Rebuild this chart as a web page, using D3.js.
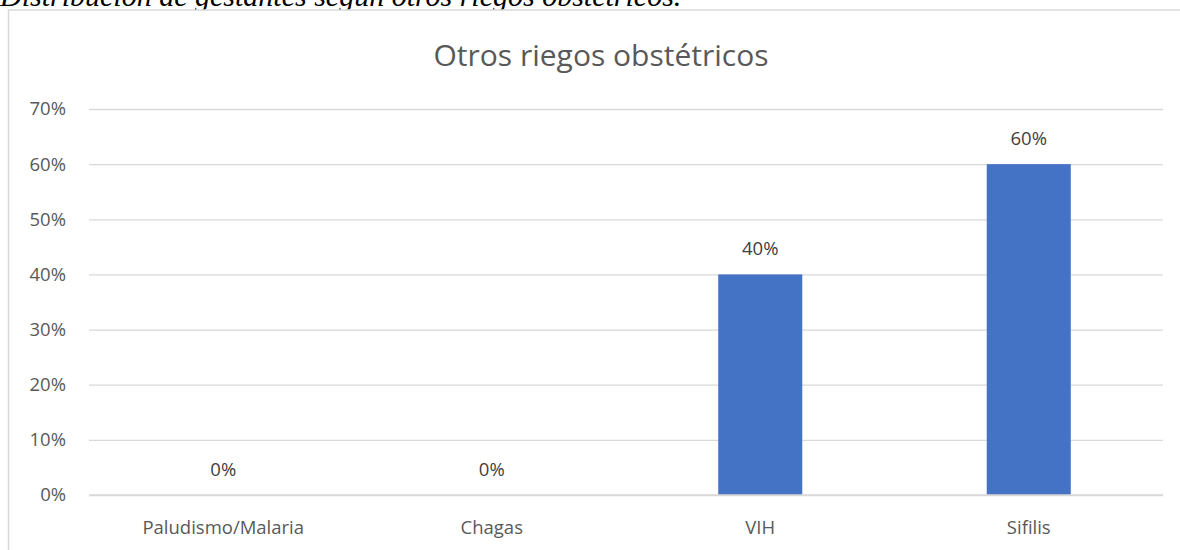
<!DOCTYPE html>
<html>
<head>
<meta charset="utf-8">
<script src="https://cdn.jsdelivr.net/npm/d3@7/dist/d3.min.js"></script>
<style>
  html, body { margin: 0; padding: 0; background: #fff; }
  svg { display: block; }
</style>
</head>
<body>
<script>
// Data
const categories = ["Paludismo/Malaria", "Chagas", "VIH", "Sifilis"];
const values = [0, 0, 0.40, 0.60];
const yTicks = [0, 0.1, 0.2, 0.3, 0.4, 0.5, 0.6, 0.7];
const caption = "Distribución de gestantes según otros riegos obstétricos.";
const chartTitle = "Otros riegos obstétricos";

const W = 1180, H = 550;
const plot = { left: 89, right: 1163, top: 109, bottom: 495 };

const svg = d3.select("body").append("svg")
  .attr("width", W).attr("height", H);

// Caption above the chart frame
svg.append("text")
  .attr("x", 0).attr("y", 6)
  .attr("font-family", "'Liberation Serif', 'Times New Roman', serif")
  .attr("font-style", "italic")
  .attr("font-size", 30)
  .attr("fill", "#000")
  .text(caption);

// Chart frame
svg.append("rect")
  .attr("x", 8.5).attr("y", 10)
  .attr("width", W + 10).attr("height", H + 10)
  .attr("fill", "#fff")
  .attr("stroke", "#d9d9d9").attr("stroke-width", 1.5);

const x = d3.scaleBand()
  .domain(categories)
  .range([plot.left, plot.right])
  .paddingInner(0.687)
  .paddingOuter(0.3435);

const y = d3.scaleLinear()
  .domain([0, 0.7])
  .range([plot.bottom, plot.top]);

const pct = d3.format(".0%");
const font = "'Open Sans', 'Noto Sans', sans-serif";
const labelSize = 18.5;

// Gridlines and value axis labels
const yAxis = d3.axisLeft(y).tickValues(yTicks).tickFormat(pct).tickSize(-(plot.right - plot.left)).tickPadding(23);
const gy = svg.append("g").attr("transform", `translate(${plot.left},0)`).call(yAxis);
gy.select(".domain").remove();
gy.selectAll(".tick line").attr("stroke", "#d9d9d9").attr("stroke-width", 1.3);
gy.selectAll(".tick text")
  .attr("font-family", font).attr("font-size", labelSize).attr("fill", "#595959");

// Bars
svg.append("g").selectAll("rect")
  .data(values)
  .join("rect")
  .attr("x", (d, i) => x(categories[i]))
  .attr("y", d => y(d))
  .attr("width", x.bandwidth())
  .attr("height", d => y(0) - y(d))
  .attr("fill", "#4472c4");

// Baseline
svg.append("line")
  .attr("x1", plot.left).attr("x2", plot.right)
  .attr("y1", y(0)).attr("y2", y(0))
  .attr("stroke", "#d9d9d9").attr("stroke-width", 1.5);

// Category axis labels
const xAxis = d3.axisBottom(x).tickSize(0).tickPadding(26);
const gx = svg.append("g").attr("transform", `translate(0,${plot.bottom})`).call(xAxis);
gx.select(".domain").remove();
gx.selectAll(".tick text")
  .attr("font-family", font).attr("font-size", labelSize).attr("fill", "#595959");

// Data labels
svg.append("g").selectAll("text")
  .data(values)
  .join("text")
  .attr("x", (d, i) => x(categories[i]) + x.bandwidth() / 2)
  .attr("y", d => y(d) - 19)
  .attr("text-anchor", "middle")
  .attr("font-family", font).attr("font-size", labelSize).attr("fill", "#404040")
  .text(d => pct(d));

// Chart title
svg.append("text")
  .attr("x", 601)
  .attr("y", 66)
  .attr("text-anchor", "middle")
  .attr("font-family", font).attr("font-size", 30).attr("fill", "#595959")
  .text(chartTitle);
</script>
</body>
</html>
